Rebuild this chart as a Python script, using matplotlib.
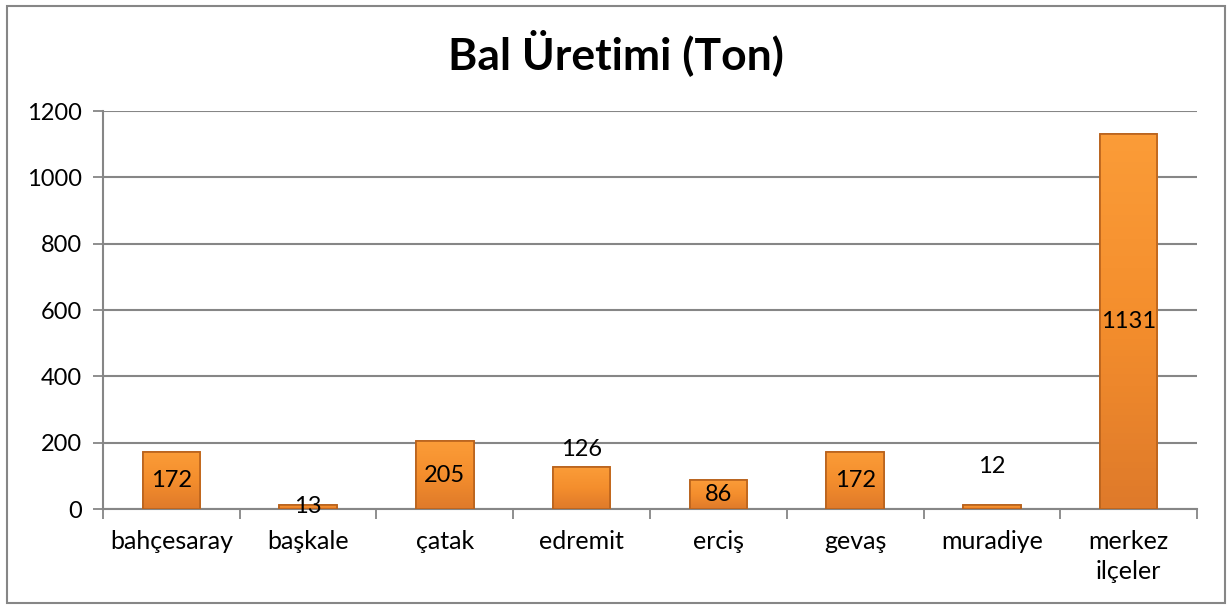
import matplotlib
matplotlib.use("Agg")
import matplotlib.pyplot as plt
import numpy as np
from matplotlib.patches import Rectangle
from matplotlib.colors import LinearSegmentedColormap

# ============================================================
# Data
# ============================================================
districts = ["bahçesaray", "başkale", "çatak", "edremit", "erciş",
             "gevaş", "muradiye", "merkez\nilçeler"]
honey_tons = [172, 13, 205, 126, 86, 172, 12, 1131]
# where Excel put each data label: "c" = centre of bar, otherwise a y value
label_pos = ["c", "c", "c", 178, "c", "c", 127, "c"]
y_ticks = [0, 200, 400, 600, 800, 1000, 1200]

plt.rcParams["font.family"] = ["Lato", "DejaVu Sans"]

fig = plt.figure(figsize=(12.32, 6.09), dpi=100)
ax = fig.add_axes([0.0836, 0.1642, 0.888, 0.6535])

x = np.arange(len(districts))
bars = ax.bar(x, honey_tons, width=0.42, color="#F7922C",
              edgecolor="#B9621C", linewidth=1.2, zorder=3)

# soft vertical gradient inside each bar (lighter top, darker bottom)
grad = LinearSegmentedColormap.from_list("bevel", ["#DF7A2A", "#F48E2D", "#FB9C38"])
for b in bars:
    x0, y0 = b.get_x(), b.get_y()
    w, h = b.get_width(), b.get_height()
    im = ax.imshow(np.linspace(0, 1, 64).reshape(-1, 1), cmap=grad, aspect="auto",
                   origin="lower", extent=[x0, x0 + w, y0, y0 + h], zorder=3.1)
    im.set_clip_path(b)
    ax.add_patch(Rectangle((x0, y0), w, h, fill=False, edgecolor="#B9621C",
                           linewidth=1.2, zorder=3.2))

for xi, v, pos in zip(x, honey_tons, label_pos):
    y = v / 2 if pos == "c" else pos
    ax.text(xi, y, str(v), ha="center", va="center", fontsize=17,
            color="black", zorder=4)

ax.set_xlim(-0.5, len(districts) - 0.5)
ax.set_ylim(0, 1200)
ax.set_yticks(y_ticks)
ax.set_yticklabels([str(t) for t in y_ticks], fontsize=17)
ax.yaxis.grid(True, color="#868686", linewidth=1.5, zorder=0)

ax.set_xticks(x)
ax.set_xticklabels(districts, fontsize=18, linespacing=1.4)
ax.tick_params(axis="x", length=0, pad=15)
ax.set_xticks(np.arange(-0.5, len(districts)), minor=True)
ax.tick_params(axis="x", which="minor", length=7, width=1.3, color="#868686")
ax.tick_params(axis="y", length=7, width=1.3, color="#868686", pad=8)

for side in ["top", "right"]:
    ax.spines[side].set_visible(False)
for side in ["left", "bottom"]:
    ax.spines[side].set_color("#868686")
    ax.spines[side].set_linewidth(1.5)

fig.text(0.5, 0.913, "Bal Üretimi (Ton)", ha="center", va="center",
         fontsize=32, fontweight="bold")

fig.patches.append(Rectangle((0.006, 0.01), 0.988, 0.98, transform=fig.transFigure,
                             fill=False, edgecolor="#868686", linewidth=1.5))

fig.savefig("out.png", dpi=100)
